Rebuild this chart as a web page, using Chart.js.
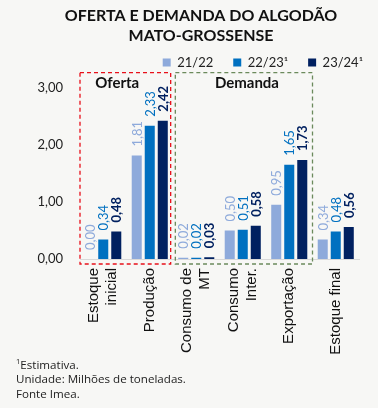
<!DOCTYPE html>
<html>
<head>
<meta charset="utf-8">
<script src="https://cdn.jsdelivr.net/npm/chart.js@4.4.1/dist/chart.umd.min.js"></script>
<style>
  html, body { margin: 0; padding: 0; background: #f7f7f5; }
  #wrap { position: relative; width: 378px; height: 408px; overflow: hidden; }
  canvas { position: absolute; left: 0; top: 0; }
  #notes { position: absolute; left: 16px; top: 354px; font: 11.6px "Open Sans", sans-serif; color: #222; line-height: 14.5px; }
  #notes sup { font-size: 7.5px; }
</style>
</head>
<body>
<div id="wrap">
  <canvas id="c" width="378" height="408"></canvas>
  <div id="notes"><sup>1</sup>Estimativa.<br>Unidade: Milhões de toneladas.<br>Fonte Imea.</div>
</div>
<script>
const categories = [["Estoque", "inicial"], "Produção", ["Consumo de", "MT"], ["Consumo", "Inter."], "Exportação", "Estoque final"];
const seriesNames = ["21/22", "22/23¹", "23/24¹"];
const s2122 = [0.00, 1.81, 0.02, 0.50, 0.95, 0.34];
const s2223 = [0.34, 2.33, 0.02, 0.51, 1.65, 0.48];
const s2324 = [0.48, 2.42, 0.03, 0.58, 1.73, 0.56];
const yTicks = [0, 1, 2, 3];
const titleLines = ["OFERTA E DEMANDA DO ALGODÃO", "MATO-GROSSENSE"];
const groupBoxes = [
  { label: "Oferta", from: -0.5, to: 1.45, labelAt: 0.3, color: "#e8101a" },
  { label: "Demanda", from: 1.55, to: 4.5, labelAt: 3.09, color: "#6b8a5c" }
];

const colors = ["#8eaadb", "#0070c0", "#002060"];
const fmt = v => v.toFixed(2).replace(".", ",");

const titlePlugin = {
  id: "titleText",
  afterDraw(chart) {
    const ctx = chart.ctx;
    ctx.save();
    ctx.fillStyle = "#111";
    ctx.font = "bold 16px Lato";
    ctx.textAlign = "center";
    ctx.textBaseline = "middle";
    titleLines.forEach((t, i) => ctx.fillText(t, 201, 16 + i * 20));
    ctx.restore();
  }
};

const legendTweak = {
  id: "legendTweak",
  afterInit(chart) {
    const lg = chart.legend;
    if (lg) {
      const orig = lg.fit;
      lg.fit = function () { orig.call(this); this.height += 8.5; };
    }
  },
  afterLayout(chart) {
    const lg = chart.legend;
    if (lg) { lg.left += 24; lg.right += 24; }
  }
};

const valueLabels = {
  id: "valueLabels",
  afterDatasetsDraw(chart) {
    const ctx = chart.ctx;
    chart.data.datasets.forEach((ds, i) => {
      const meta = chart.getDatasetMeta(i);
      meta.data.forEach((bar, j) => {
        ctx.save();
        ctx.translate(bar.x + 1, bar.y - 9);
        ctx.rotate(-Math.PI / 2);
        ctx.font = (i === 2 ? "bold " : "") + "13px Lato";
        ctx.fillStyle = colors[i];
        ctx.textAlign = "left";
        ctx.textBaseline = "middle";
        ctx.fillText(fmt(ds.data[j]), 0, 0);
        ctx.restore();
      });
    });
  }
};

const xLabels = {
  id: "xLabels",
  afterDraw(chart) {
    const ctx = chart.ctx, xs = chart.scales.x;
    const lh = 18, y0 = chart.chartArea.bottom + 9;
    categories.forEach((c, i) => {
      const lines = Array.isArray(c) ? c : [c];
      const px = xs.getPixelForValue(i);
      lines.forEach((t, k) => {
        ctx.save();
        ctx.translate(px + (k - (lines.length - 1) / 2) * lh, y0);
        ctx.rotate(-Math.PI / 2);
        ctx.font = "15px 'Liberation Sans'";
        ctx.fillStyle = "#111";
        ctx.textAlign = "right";
        ctx.textBaseline = "middle";
        ctx.fillText(t, 0, 0);
        ctx.restore();
      });
    });
  }
};

const boxes = {
  id: "boxes",
  afterDraw(chart) {
    const ctx = chart.ctx, xs = chart.scales.x, ys = chart.scales.y;
    const top = ys.getPixelForValue(3.26);
    const bottom = chart.chartArea.bottom + 5;
    groupBoxes.forEach(b => {
      const l = xs.getPixelForValue(b.from), r = xs.getPixelForValue(b.to);
      ctx.save();
      ctx.strokeStyle = b.color;
      ctx.lineWidth = 1.3;
      ctx.setLineDash([4, 3]);
      ctx.strokeRect(l, top, r - l, bottom - top);
      ctx.setLineDash([]);
      ctx.fillStyle = "#111";
      ctx.font = "bold 15px Lato";
      ctx.textAlign = "center";
      ctx.textBaseline = "middle";
      ctx.fillText(b.label, xs.getPixelForValue(b.labelAt), top + 11);
      ctx.restore();
    });
  }
};

new Chart(document.getElementById("c"), {
  type: "bar",
  data: {
    labels: categories,
    datasets: [
      { label: seriesNames[0], data: s2122, backgroundColor: colors[0] },
      { label: seriesNames[1], data: s2223, backgroundColor: colors[1] },
      { label: seriesNames[2], data: s2324, backgroundColor: colors[2] }
    ]
  },
  options: {
    responsive: false,
    devicePixelRatio: 1,
    animation: false,
    layout: { padding: { left: 0, right: 19, top: 36, bottom: 0 } },
    datasets: { bar: { categoryPercentage: 0.84, barPercentage: 0.77 } },
    plugins: {
      title: { display: false },
      legend: {
        position: "top",
        align: "end",
        labels: {
          boxWidth: 8,
          boxHeight: 8,
          padding: 20,
          color: "#222",
          font: { family: "Lato", size: 13 }
        }
      },
      tooltip: { enabled: false }
    },
    scales: {
      x: {
        grid: { display: false, drawTicks: false },
        border: { display: true, color: "#d9d9d9", width: 1 },
        ticks: { display: false },
        afterFit(scale) { scale.height = 149; }
      },
      y: {
        min: 0,
        max: 3,
        grid: { display: false, drawTicks: false },
        border: { display: false },
        afterBuildTicks(scale) { scale.ticks = yTicks.map(v => ({ value: v })); },
        ticks: {
          color: "#222",
          font: { family: "Lato", size: 13 },
          padding: 17,
          callback: v => fmt(v)
        },
        afterFit(scale) { scale.width = 80; }
      }
    }
  },
  plugins: [legendTweak, titlePlugin, valueLabels, xLabels, boxes]
});
</script>
</body>
</html>
